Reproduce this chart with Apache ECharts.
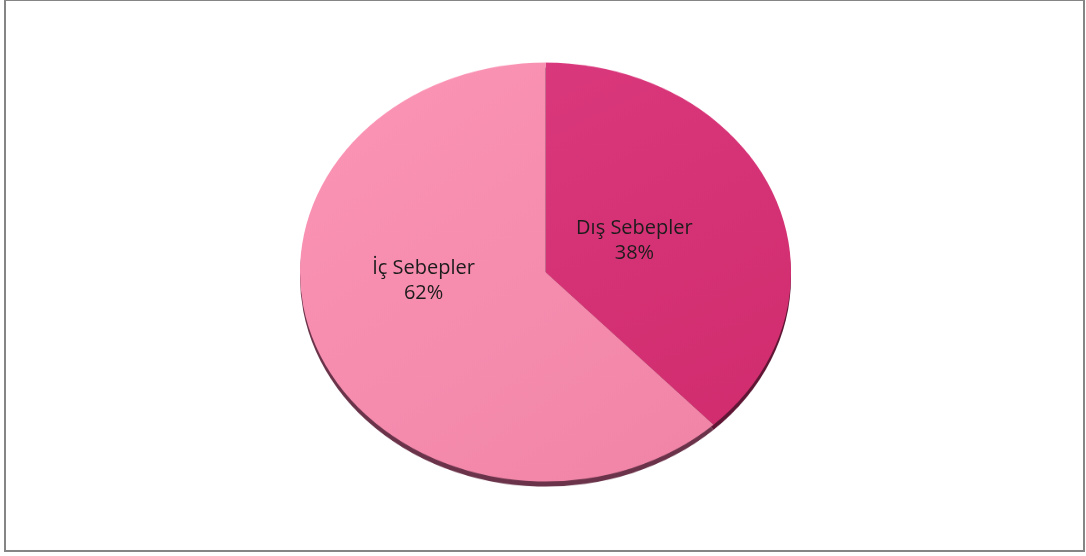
<!DOCTYPE html>
<html>
<head>
<meta charset="utf-8">
<script src="https://cdn.jsdelivr.net/npm/echarts@6/dist/echarts.min.js"></script>
<style>
  html, body { margin: 0; padding: 0; background: #fff; width: 1086px; height: 556px; overflow: hidden; }
  #frame { position: absolute; left: 4px; top: -1px; width: 1081px; height: 553px; box-sizing: border-box; border: 2px solid #858585; }
  #pie, #labels { position: absolute; left: 0; top: 0; width: 1086px; height: 556px; }
  #pie { transform: scaleY(0.853); transform-origin: 0 272px; }
</style>
</head>
<body>
<div id="frame"></div>
<div id="pie"></div>
<div id="labels"></div>
<script>
// Data
const categories = ['Dış Sebepler', 'İç Sebepler'];
const values = [38, 62];

// Styles
const topColors = ['#da387c', '#fc95b6'];
const bottomColors = ['#d02c6e', '#f084a7'];
const rimColors = ['#5e1634', '#6a3349'];
const labelOffsets = [[-28, 15], [-5, -37]];

const center = [545.5, 272];
const radius = 245.5;

const pieData = categories.map((name, i) => ({
  name: name,
  value: values[i],
  itemStyle: {
    color: new echarts.graphic.LinearGradient(0, 0, 1, 1, [
      { offset: 0, color: topColors[i] },
      { offset: 1, color: bottomColors[i] }
    ]),
    shadowColor: rimColors[i],
    shadowOffsetY: 6,
    shadowOffsetX: 0,
    shadowBlur: 0
  }
}));

const pieChart = echarts.init(document.getElementById('pie'), null, { renderer: 'canvas' });
pieChart.setOption({
  animation: false,
  series: [{
    type: 'pie',
    center: center,
    radius: [0, radius],
    startAngle: 90,
    clockwise: true,
    silent: true,
    label: { show: false },
    labelLine: { show: false },
    itemStyle: { borderWidth: 0 },
    emphasis: { disabled: true },
    data: pieData
  }]
});

const labelChart = echarts.init(document.getElementById('labels'), null, { renderer: 'canvas' });
labelChart.setOption({
  animation: false,
  series: [{
    type: 'pie',
    center: center,
    radius: [0, radius],
    startAngle: 90,
    clockwise: true,
    silent: true,
    itemStyle: { color: 'rgba(0,0,0,0)', borderWidth: 0 },
    label: {
      show: true,
      position: 'inside',
      formatter: '{b}\n{d}%',
      fontFamily: 'Open Sans',
      fontSize: 20,
      lineHeight: 25,
      color: '#1c1c1c',
      align: 'center'
    },
    labelLine: { show: false },
    labelLayout: function (p) {
      return { dx: labelOffsets[p.dataIndex][0], dy: labelOffsets[p.dataIndex][1] };
    },
    emphasis: { disabled: true },
    data: categories.map((name, i) => ({ name: name, value: values[i] }))
  }]
});
</script>
</body>
</html>
